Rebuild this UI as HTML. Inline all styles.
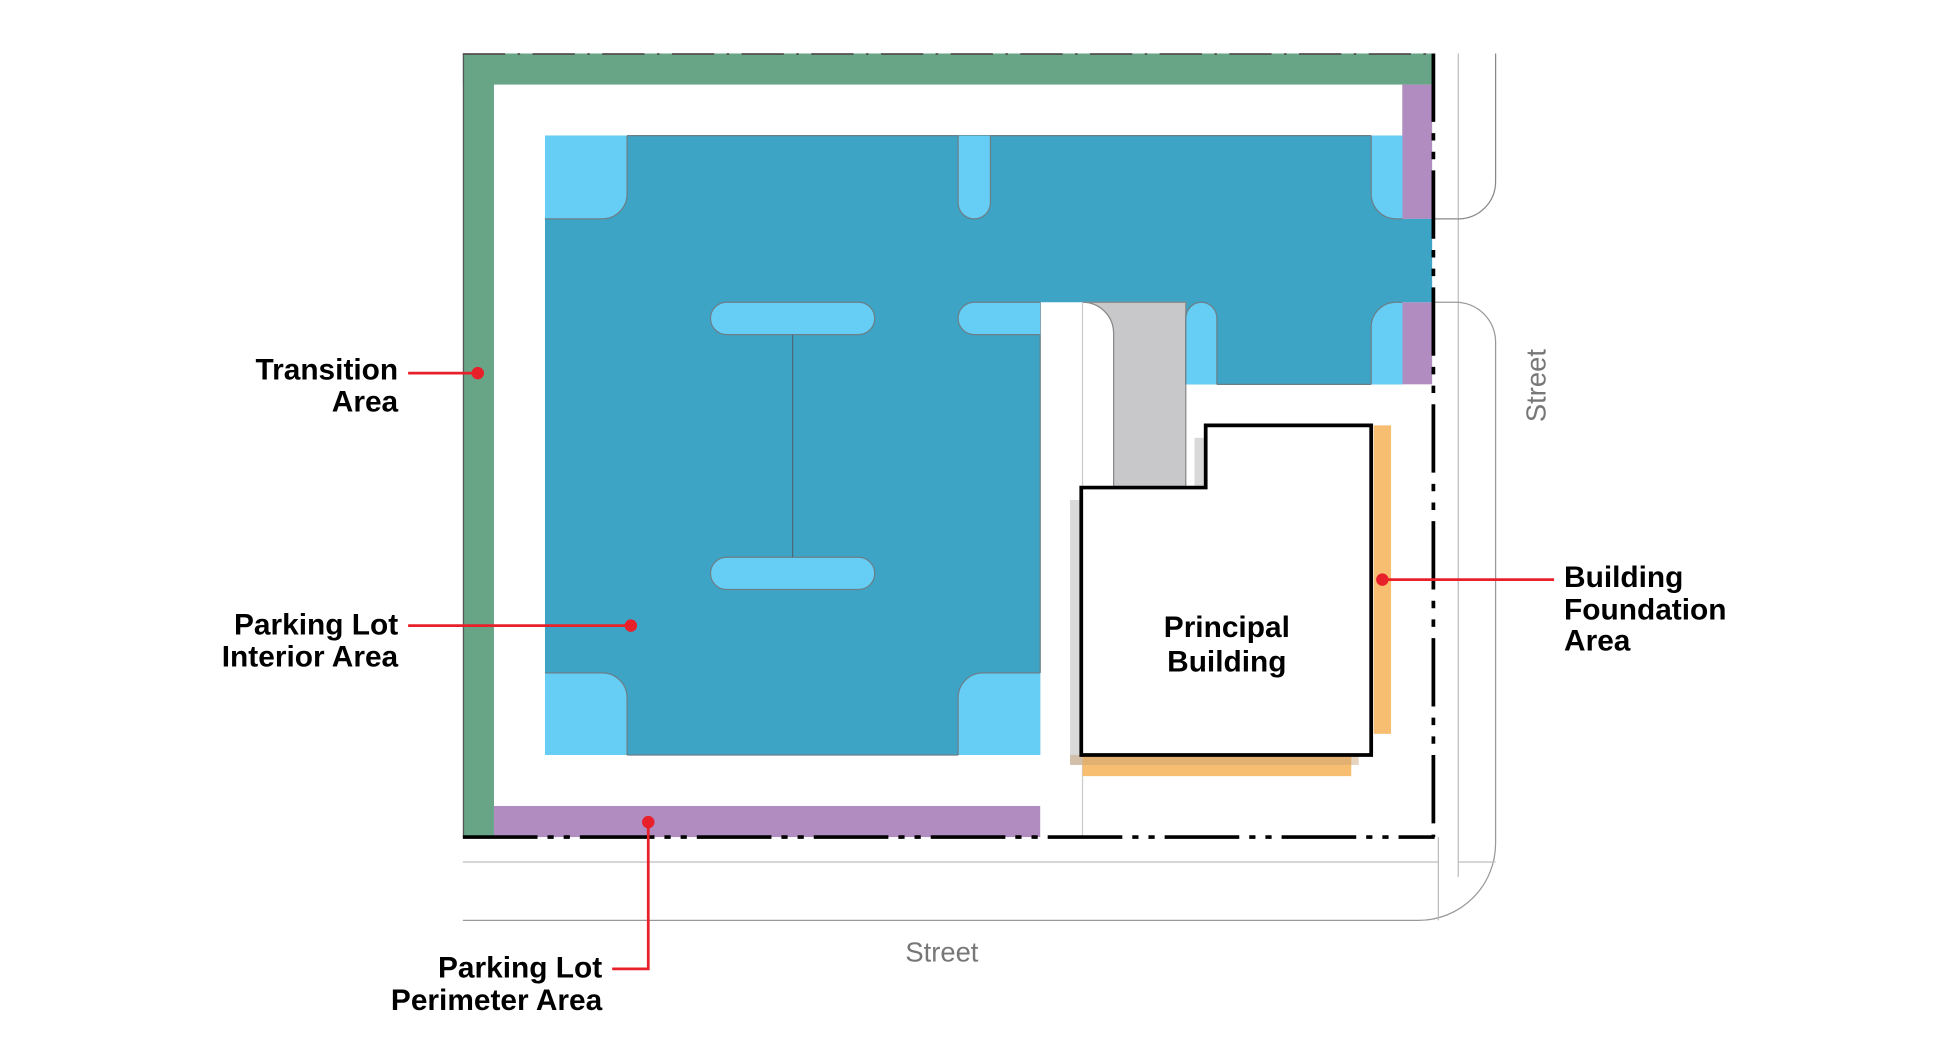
<!DOCTYPE html>
<html><head><meta charset="utf-8"><style>
html,body{margin:0;padding:0;background:#fff;width:1951px;height:1051px;overflow:hidden}
svg{display:block}
text{font-family:"Liberation Sans",sans-serif}
.lb{font-weight:bold;font-size:24px;fill:#000}
</style></head><body>
<svg width="1951" height="1051" viewBox="0 0 1568 845" preserveAspectRatio="none">
<!-- streets -->
<g fill="none" stroke="#bdbdbd" stroke-width="1">
<line x1="1172" y1="43" x2="1172" y2="705"/>
<path d="M1202 43 V146 A30 30 0 0 1 1172 176 H1152" stroke="#888"/>
<path d="M1152 243 H1170 A32 32 0 0 1 1202 275 V678 A62 62 0 0 1 1140 740 H372" stroke="#999"/>
<line x1="372" y1="693" x2="1156" y2="693"/>
<line x1="1156" y1="673" x2="1156" y2="740"/>
<line x1="1172" y1="693" x2="1202" y2="693"/>
</g>
<!-- transition (green) -->
<rect x="372" y="43" width="779" height="25" fill="#68a587"/>
<rect x="372" y="43" width="25" height="630" fill="#68a587"/>
<line x1="372" y1="43.5" x2="1152" y2="43.5" stroke="#555" stroke-width="1.5" stroke-dasharray="34 10 2 10"/>
<line x1="372.5" y1="43" x2="372.5" y2="673" stroke="#555" stroke-width="1"/>
<!-- purple perimeter -->
<rect x="1127" y="68" width="24" height="108" fill="#b18cc0"/>
<rect x="1127" y="243" width="24" height="66" fill="#b18cc0"/>
<rect x="397" y="648" width="439" height="25" fill="#b18cc0"/>
<!-- dark blue -->
<path d="M438 109 H1127 V176 H1151 V243 H1127 V309 H953 V243 H836 V607 H438 Z" fill="#3ea4c6"/>
<path d="M504 109 H1102 M770 607 H504 M836 243 V541 M978 309 H1102" stroke="#6a7f88" stroke-width="1" fill="none"/>
<!-- gray drive -->
<path d="M870 243 H953 V392 H895 V268 A25 25 0 0 0 870 243 Z" fill="#c8c8ca" stroke="#888" stroke-width="1"/>
<line x1="870" y1="243" x2="870" y2="673" stroke="#ccc" stroke-width="1"/>
<!-- light blue islands -->
<g fill="#66cdf4">
<path d="M438 109 H504 V156 A20 20 0 0 1 484 176 H438 Z"/>
<path d="M770 109 H796 V163 A13 13 0 0 1 770 163 Z"/>
<path d="M1102 109 H1127 V176 H1122 A20 20 0 0 1 1102 156 Z"/>
<path d="M836 243 H783 A13 13 0 0 0 783 269 H836 Z"/>
<path d="M953 309 V256 A12.5 13 0 0 1 978 256 V309 Z"/>
<path d="M1127 243 H1122 A20 20 0 0 0 1102 263 V309 H1127 Z"/>
<path d="M438 607 V541 H484 A20 20 0 0 1 504 561 V607 Z"/>
<path d="M836 607 V541 H790 A20 20 0 0 0 770 561 V607 Z"/>
</g>
<g fill="none" stroke="#6a7f88" stroke-width="1">
<path d="M504 109 V156 A20 20 0 0 1 484 176 H438"/>
<path d="M770 109 V163 A13 13 0 0 0 796 163 V109"/>
<path d="M1102 109 V156 A20 20 0 0 0 1122 176 H1127"/>
<path d="M836 243 H783 A13 13 0 0 0 783 269 H836"/>
<path d="M953 309 V256 A12.5 13 0 0 1 978 256 V309"/>
<path d="M1127 243 H1122 A20 20 0 0 0 1102 263 V309"/>
<path d="M438 541 H484 A20 20 0 0 1 504 561 V607"/>
<path d="M836 541 H790 A20 20 0 0 0 770 561 V607"/>
</g>
<g fill="#66cdf4" stroke="#6a7f88" stroke-width="1">
<rect x="571" y="243" width="132" height="26" rx="13"/>
<rect x="571" y="448" width="132" height="26" rx="13"/>
</g>
<line x1="637" y1="269" x2="637" y2="448" stroke="#4a6a78" stroke-width="1"/>
<!-- building shadow & foundation -->
<rect x="860" y="402" width="10" height="213" fill="#d9d9d9"/>
<rect x="960" y="352" width="10" height="40" fill="#d9d9d9"/>
<rect x="1104" y="342" width="14" height="248" fill="#f7be72"/>
<rect x="870" y="607" width="216" height="17" fill="#f7be72"/>
<rect x="860" y="607" width="232" height="8" fill="#c8a070" opacity="0.45"/>
<path d="M969 342 H1102 V607 H869 V392 H969 Z" fill="#fff" stroke="#000" stroke-width="3"/>
<text x="986" y="512" text-anchor="middle" class="lb">Principal</text>
<text x="986" y="540" text-anchor="middle" class="lb">Building</text>
<!-- property lines -->
<line x1="1152" y1="43" x2="1152" y2="673" stroke="#000" stroke-width="3" stroke-dasharray="55 9 6 9 6 9"/>
<line x1="372" y1="673" x2="1153" y2="673" stroke="#000" stroke-width="3" stroke-dasharray="60 8 5 8 5 8"/>
<!-- leaders -->
<g stroke="#e8202a" stroke-width="2.2" fill="none">
<line x1="328" y1="300" x2="384" y2="300"/>
<line x1="328" y1="503" x2="507" y2="503"/>
<polyline points="521,661 521,779 492,779"/>
<line x1="1111" y1="466" x2="1249" y2="466"/>
</g>
<g fill="#e8202a">
<circle cx="384" cy="300" r="5"/><circle cx="507" cy="503" r="5"/>
<circle cx="521" cy="661" r="5"/><circle cx="1111" cy="466" r="5"/>
</g>
<!-- labels -->
<text x="320" y="305" text-anchor="end" class="lb">Transition</text>
<text x="320" y="331" text-anchor="end" class="lb">Area</text>
<text x="320" y="510" text-anchor="end" class="lb">Parking Lot</text>
<text x="320" y="536" text-anchor="end" class="lb">Interior Area</text>
<text x="484" y="786" text-anchor="end" class="lb">Parking Lot</text>
<text x="484" y="812" text-anchor="end" class="lb">Perimeter Area</text>
<text x="1257" y="472" class="lb">Building</text>
<text x="1257" y="498" class="lb">Foundation</text>
<text x="1257" y="523" class="lb">Area</text>
<text x="757" y="773" text-anchor="middle" style="font-size:22px;fill:#777">Street</text>
<text transform="translate(1242,310) rotate(-90)" text-anchor="middle" style="font-size:22px;fill:#777">Street</text>
</svg>
</body></html>
